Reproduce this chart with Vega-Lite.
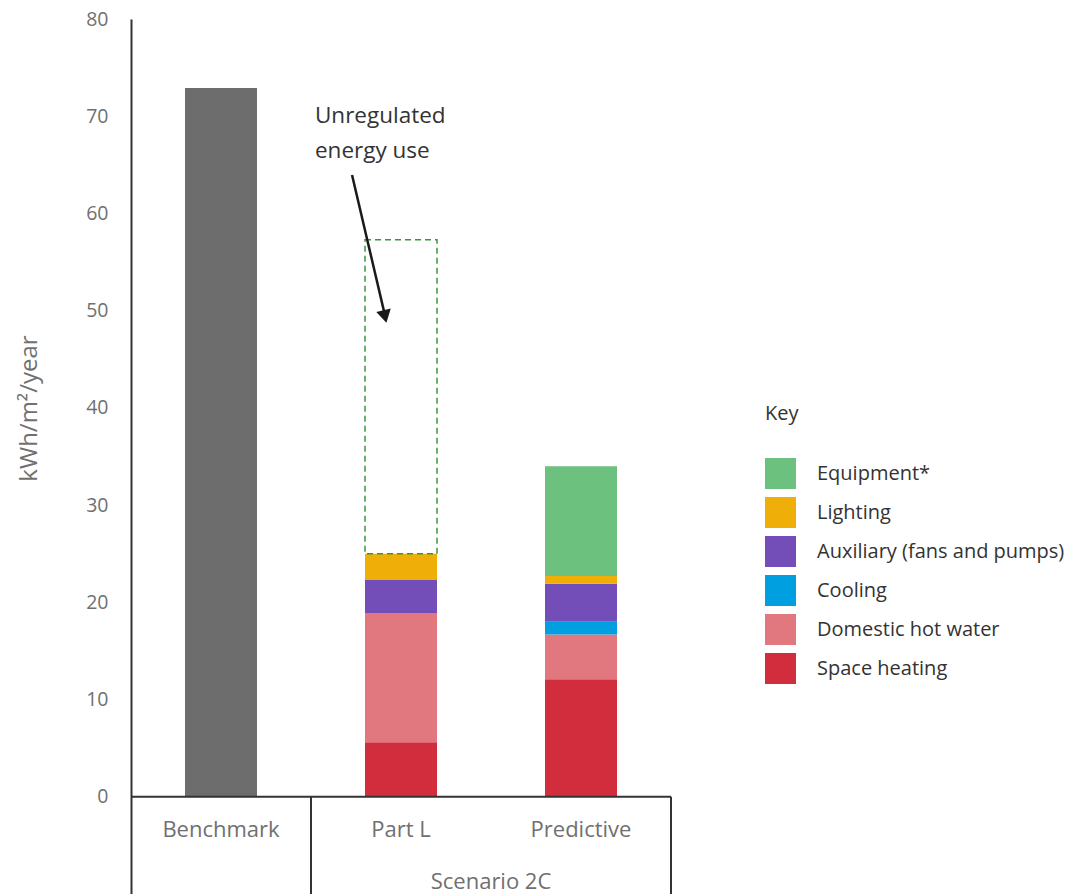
{
  "$schema": "https://vega.github.io/schema/vega-lite/v6.json",
  "width": 540,
  "height": 875,
  "autosize": "none",
  "padding": {"left": 131, "top": 19, "right": 416, "bottom": 0},
  "background": "white",
  "config": {"view": {"stroke": null}, "font": "Open Sans"},
  "resolve": {"scale": {"x": "independent"}},
  "layer": [
    {
      "layer": [
        {
          "data": {"values": [
            {"bar": "Benchmark", "component": "Benchmark", "rank": 1, "value": 72.9},
            {"bar": "Part L", "component": "Space heating", "rank": 1, "value": 5.6},
            {"bar": "Part L", "component": "Domestic hot water", "rank": 2, "value": 13.3},
            {"bar": "Part L", "component": "Auxiliary (fans and pumps)", "rank": 4, "value": 3.4},
            {"bar": "Part L", "component": "Lighting", "rank": 5, "value": 2.7},
            {"bar": "Predictive", "component": "Space heating", "rank": 1, "value": 12.1},
            {"bar": "Predictive", "component": "Domestic hot water", "rank": 2, "value": 4.6},
            {"bar": "Predictive", "component": "Cooling", "rank": 3, "value": 1.3},
            {"bar": "Predictive", "component": "Auxiliary (fans and pumps)", "rank": 4, "value": 3.9},
            {"bar": "Predictive", "component": "Lighting", "rank": 5, "value": 0.8},
            {"bar": "Predictive", "component": "Equipment*", "rank": 6, "value": 11.3}
          ]},
          "mark": {"type": "bar", "strokeWidth": 0},
          "encoding": {
            "x": {"field": "bar", "type": "nominal", "axis": null,
                  "scale": {"paddingInner": 0.6, "paddingOuter": 0.3}},
            "y": {"field": "value", "type": "quantitative", "stack": "zero",
                  "scale": {"domain": [-10, 80], "nice": false},
                  "axis": {"values": [0, 10, 20, 30, 40, 50, 60, 70, 80], "grid": false, "ticks": false,
                           "domain": true, "domainColor": "#333333", "domainWidth": 2,
                           "labelFontSize": 19.5, "labelColor": "#707070", "labelPadding": 23,
                           "labelFont": "Open Sans",
                           "title": "kWh/m²/year", "titleFontSize": 24, "titleFontWeight": "normal",
                           "titleColor": "#707070", "titleFont": "Open Sans", "titleX": -102, "titleY": 389,
                           "titleAngle": -90, "titleBaseline": "middle", "titleAlign": "center"}},
            "order": {"field": "rank", "type": "quantitative", "sort": "ascending"},
            "color": {"field": "component", "type": "nominal",
                      "scale": {"domain": ["Equipment*", "Lighting", "Auxiliary (fans and pumps)", "Cooling", "Domestic hot water", "Space heating", "Benchmark"],
                                "range": ["#6cc17e", "#efaf08", "#734eb9", "#009fdf", "#e17880", "#d12d3d", "#6d6d6d"]},
                      "legend": {"orient": "none", "legendX": 634, "legendY": 385,
                                 "values": ["Equipment*", "Lighting", "Auxiliary (fans and pumps)", "Cooling", "Domestic hot water", "Space heating"],
                                 "title": "Key", "titleFontSize": 20, "titleFontWeight": "normal", "titleColor": "#333333",
                                 "titleFont": "Open Sans", "titlePadding": 34,
                                 "symbolType": "square", "symbolSize": 961, "symbolStrokeWidth": 0, "symbolOpacity": 1,
                                 "labelFontSize": 20, "labelColor": "#333333", "labelFont": "Open Sans", "labelOffset": 21,
                                 "rowPadding": 8, "labelLimit": 400}}
          }
        },
        {
          "data": {"values": [{"bar": "Part L", "from": 25.0, "to": 57.3}]},
          "mark": {"type": "bar", "filled": false, "stroke": "#3a963a", "strokeWidth": 1.5, "strokeDash": [6, 4]},
          "encoding": {
            "x": {"field": "bar", "type": "nominal"},
            "y": {"field": "from", "type": "quantitative"},
            "y2": {"field": "to"}
          }
        },
        {
          "data": {"values": [{"bar": "Benchmark"}, {"bar": "Part L"}, {"bar": "Predictive"}]},
          "mark": {"type": "text", "fontSize": 22, "color": "#707070", "baseline": "middle", "font": "Open Sans"},
          "encoding": {
            "x": {"field": "bar", "type": "nominal"},
            "y": {"datum": -3.4},
            "text": {"field": "bar"}
          }
        }
      ]
    },
    {
      "layer": [
        {
          "data": {"values": [{}]},
          "mark": {"type": "rule", "color": "#333333", "strokeWidth": 2},
          "encoding": {"y": {"datum": 0, "type": "quantitative"}}
        },
        {
          "data": {"values": [{}]},
          "mark": {"type": "rule", "color": "#333333", "strokeWidth": 2},
          "encoding": {
            "x": {"datum": 1, "type": "quantitative", "scale": {"domain": [0, 3], "nice": false, "zero": false}, "axis": null},
            "y": {"datum": 0, "type": "quantitative"},
            "y2": {"datum": -10}
          }
        },
        {
          "data": {"values": [{}]},
          "mark": {"type": "rule", "color": "#333333", "strokeWidth": 2},
          "encoding": {
            "x": {"datum": 3, "type": "quantitative"},
            "y": {"datum": 0, "type": "quantitative"},
            "y2": {"datum": -10}
          }
        },
        {
          "data": {"values": [{"label": "Scenario 2C"}]},
          "mark": {"type": "text", "fontSize": 22, "color": "#707070", "baseline": "middle", "font": "Open Sans"},
          "encoding": {
            "x": {"datum": 2, "type": "quantitative"},
            "y": {"datum": -8.75, "type": "quantitative"},
            "text": {"field": "label"}
          }
        },
        {
          "data": {"values": [{}]},
          "mark": {"type": "text", "fontSize": 22.5, "color": "#333333", "align": "left", "baseline": "middle",
                   "lineHeight": 35, "font": "Open Sans"},
          "encoding": {
            "x": {"datum": 1.022, "type": "quantitative"},
            "y": {"datum": 70.0, "type": "quantitative"},
            "text": {"value": ["Unregulated", "energy use"]}
          }
        },
        {
          "data": {"values": [{}]},
          "mark": {"type": "rule", "color": "#1a1a1a", "strokeWidth": 2.5},
          "encoding": {
            "x": {"datum": 1.228, "type": "quantitative"},
            "y": {"datum": 63.96, "type": "quantitative"},
            "x2": {"datum": 1.406},
            "y2": {"datum": 49.9}
          }
        },
        {
          "data": {"values": [{}]},
          "mark": {"type": "point", "shape": "triangle-down", "filled": true, "size": 220, "angle": 347,
                   "color": "#1a1a1a", "opacity": 1},
          "encoding": {
            "x": {"datum": 1.411, "type": "quantitative"},
            "y": {"datum": 49.4, "type": "quantitative"}
          }
        }
      ]
    }
  ]
}
